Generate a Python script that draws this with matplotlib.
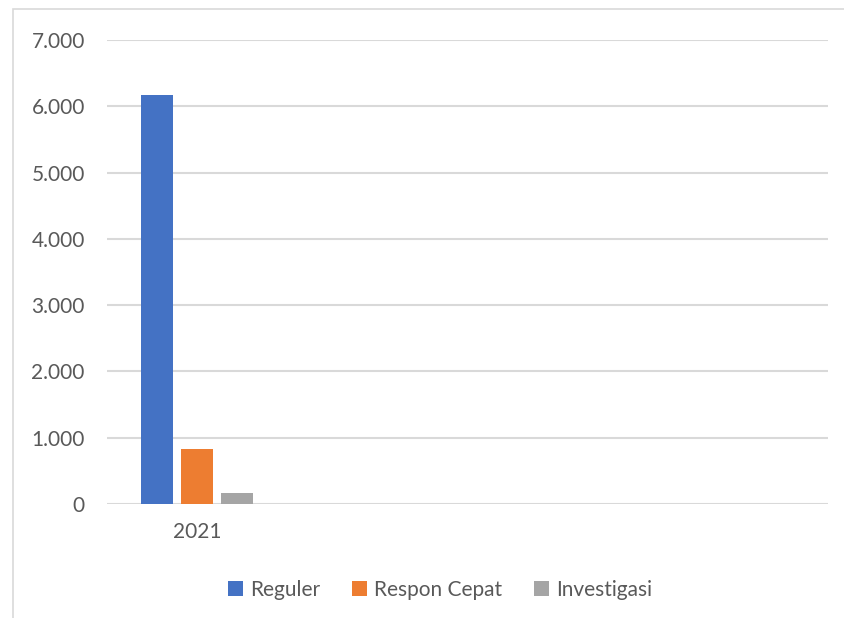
import numpy as np
import matplotlib.pyplot as plt
import matplotlib.ticker as ticker
from matplotlib.patches import Patch, Rectangle

# data (only 2021 filled, the other category slots are empty)
years = ["2021", "", "", ""]
reguler = [6170, np.nan, np.nan, np.nan]
respon_cepat = [830, np.nan, np.nan, np.nan]
investigasi = [168, np.nan, np.nan, np.nan]

series_names = ["Reguler", "Respon Cepat", "Investigasi"]
colors = ["#4472C4", "#ED7D31", "#A5A5A5"]
text_color = "#595959"
grid_color = "#D9D9D9"

plt.rcParams["font.family"] = ["Lato", "DejaVu Sans"]

W, H = 844, 618
fig = plt.figure(figsize=(W / 100, H / 100), dpi=100)

# outer chart border (right/bottom cut off in the original)
fig.patches.append(Rectangle((13 / W, -0.1), 1.2, 1 - 9 / H + 0.1,
                             transform=fig.transFigure, fill=False,
                             edgecolor=grid_color, linewidth=1.2))

ax_left, ax_right = 107 / W, 828 / W
ax_top, ax_bottom = 1 - 40 / H, 1 - 504 / H
ax = fig.add_axes([ax_left, ax_bottom, ax_right - ax_left, ax_top - ax_bottom])

x = np.arange(len(years))
bar_w = 32 / 180
step = 40 / 180
for i, (vals, name, c) in enumerate(zip([reguler, respon_cepat, investigasi],
                                        series_names, colors)):
    ax.bar(x + (i - 1) * step, vals, width=bar_w, color=c, label=name, zorder=3)

ax.set_xlim(-0.5, len(years) - 0.5)
ax.set_ylim(0, 7000)
ax.yaxis.set_major_locator(ticker.MultipleLocator(1000))
ax.yaxis.set_major_formatter(
    ticker.FuncFormatter(lambda v, p: f"{int(v):,}".replace(",", ".")))
ax.set_xticks(x)
ax.set_xticklabels(years)

ax.grid(axis="y", color=grid_color, linewidth=1.5, zorder=0)
ax.set_axisbelow(True)
for s in ax.spines.values():
    s.set_visible(False)
ax.tick_params(axis="both", length=0, labelsize=15, colors=text_color)
ax.tick_params(axis="y", pad=16)
ax.tick_params(axis="x", pad=13)

handles = [Patch(facecolor=c, label=n) for c, n in zip(colors, series_names)]
fig.legend(handles=handles, loc="center", ncol=3,
           bbox_to_anchor=(440 / W, 1 - 590 / H), frameon=False,
           fontsize=15, labelcolor=text_color, handlelength=0.72,
           handleheight=0.72, handletextpad=0.35, columnspacing=1.5)

fig.savefig("out.png", dpi=100)
